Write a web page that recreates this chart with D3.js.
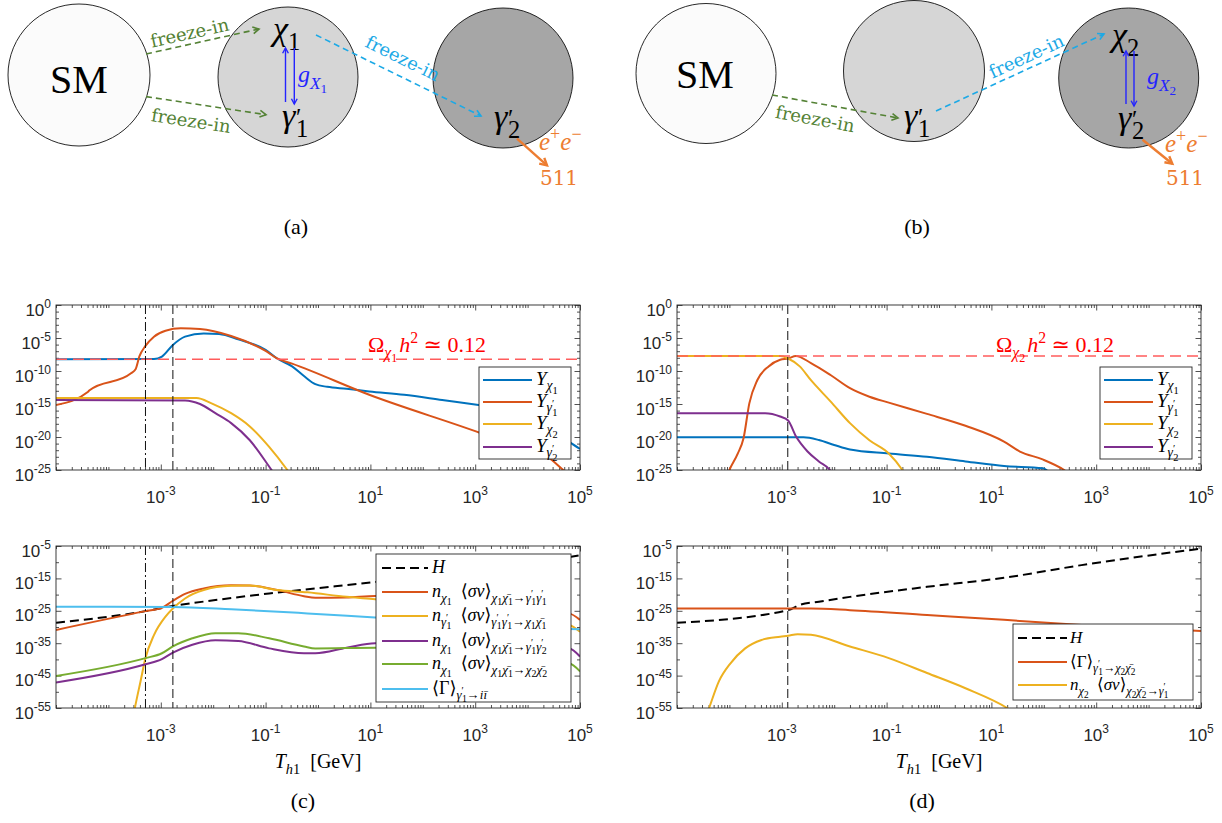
<!DOCTYPE html>
<html>
<head>
<meta charset="utf-8">
<script src="https://cdn.jsdelivr.net/npm/d3@7"></script>
<style>
  body { margin: 0; background: #fff; }
  svg { display: block; }
</style>
</head>
<body>
<svg id="fig" width="1222" height="823"></svg>
<script>
// ---------------- data ----------------
// x = T_h1 [GeV], y = value

// (c) upper: yields
const cTopYchi1 = [[1e-5, 5.9e-9], [7.4e-4, 6.3e-9], [1.05e-3, 1.5e-8], [1.7e-3, 8.7e-7], [2.9e-3, 1.6e-5],
  [6.6e-3, 5e-5], [1.3e-2, 4e-5], [3.0e-2, 6.3e-6], [0.1, 1.6e-7], [0.166, 7.9e-9], [0.32, 5e-10],
  [0.54, 1.7e-11], [0.89, 1e-12], [1.5, 4e-13], [3.5, 2e-13], [9.5, 7.9e-14], [44, 2.5e-14],
  [234, 4e-15], [1260, 6.3e-16], [4000, 1.6e-16], [1.6e4, 6.3e-18], [3.2e4, 2.5e-19], [6.2e4, 2e-21], [1e5, 1.6e-22]];
const cTopYgam1 = [[1e-5, 7e-16], [4.1e-5, 7e-14], [4.3e-5, 1.1e-13], [2.7e-4, 4.5e-11], [3.3e-4, 1.8e-10],
  [3.9e-4, 1.6e-8], [5.1e-4, 6.3e-7], [7.4e-4, 1.6e-5], [1.23e-3, 1.26e-4], [2.4e-3, 2.9e-4],
  [5.6e-3, 2.3e-4], [2.2e-2, 2e-5], [0.1, 1.1e-7], [0.166, 7.9e-9], [0.32, 1.3e-9], [9.5, 2.5e-14],
  [1260, 4e-20], [2.9e4, 3.2e-24], [4.8e4, 1e-25], [1e5, 3e-27]];
const cTopYchi2 = [[1e-5, 8e-15], [4.8e-3, 8e-15], [9.3e-3, 1.26e-15], [2.2e-2, 4e-17], [5e-2, 4e-19],
  [0.117, 3.2e-22], [0.26, 1e-25], [0.32, 1e-26]];
const cTopYgam2 = [[1e-5, 4e-15], [2.9e-3, 3.5e-15], [5.6e-3, 1e-15], [1.1e-2, 4e-17], [2.2e-2, 1.26e-18],
  [5e-2, 3.2e-21], [0.13, 1e-25], [0.16, 1e-26]];

// (c) lower: rates
const cBotH = [[1e-5, 2e-29], [5.1e-4, 7.9e-26], [1.7e-3, 3.2e-24], [1.1e-2, 2e-22], [0.117, 2.2e-20],
  [0.89, 7.9e-19], [12.3, 7.9e-17], [6.2e4, 4e-9], [1e5, 1.26e-8]];
const cBotSv11 = [[1e-5, 1.26e-31], [5.1e-4, 7.9e-26], [1.05e-3, 7.9e-25], [1.7e-3, 1.26e-22], [2.9e-3, 1.6e-20],
  [6.6e-3, 7.9e-19], [2.2e-2, 7.9e-18], [5e-2, 6.3e-18], [0.166, 2.5e-19], [0.54, 3.2e-21],
  [0.89, 1e-21], [3.5, 1.26e-21], [12.3, 4e-21], [6.2e4, 1.6e-26], [1e5, 1.6e-28]];
const cBotSvGG = [[2.8e-4, 1e-60], [3.2e-4, 1e-55], [4.1e-4, 1.6e-47], [5.1e-4, 2.5e-40], [7.4e-4, 3.2e-33],
  [1.23e-3, 1.6e-27], [1.7e-3, 5e-25], [2.9e-3, 6.3e-22], [6.6e-3, 2.5e-19], [2.2e-2, 5e-18],
  [5e-2, 6.3e-18], [0.166, 2.5e-19], [0.63, 5e-20], [3.5, 2e-21], [12.3, 4e-22], [6.2e4, 4e-30], [1e5, 3.2e-32]];
const cBotSv12 = [[1e-5, 7.9e-48], [5.1e-4, 3.2e-42], [1.05e-3, 1.26e-40], [1.7e-3, 1.26e-38], [4e-3, 3.2e-36],
  [1.1e-2, 7.9e-35], [3e-2, 5e-35], [0.117, 2.5e-37], [0.54, 7.9e-39], [0.89, 7.9e-39], [3.5, 4e-37],
  [12.3, 1e-35], [6.2e4, 2.5e-37], [1e5, 7.9e-40]];
const cBotSv22 = [[1e-5, 7.9e-46], [5.1e-4, 2.5e-40], [1.05e-3, 7.9e-39], [1.7e-3, 1e-36], [4e-3, 3.2e-34],
  [1.1e-2, 1.26e-32], [3e-2, 1.26e-32], [0.117, 3.2e-34], [0.54, 1e-36], [0.89, 2.5e-37], [12.3, 4e-37],
  [6.2e4, 6.3e-42], [1e5, 2e-44]];
const cBotGamma = [[1e-5, 1.8e-24], [1.7e-3, 1.6e-24], [2.2e-2, 3.2e-25], [0.63, 1.6e-26], [12.3, 7.9e-28],
  [6.2e4, 2.5e-31], [1e5, 2e-31]];

// (d) upper: yields
const dTopYchi1 = [[1e-5, 9e-21], [2.6e-3, 9e-21], [5.1e-3, 3.5e-21], [1e-2, 6.3e-22], [2e-2, 1.26e-22],
  [0.11, 3.2e-23], [0.59, 1e-23], [3.2, 2e-24], [17.4, 4e-25], [95, 1.8e-25], [112, 1e-25], [126, 3.2e-26]];
const dTopYgam1 = [[8.9e-5, 1e-26], [1e-4, 1e-25], [1.45e-4, 3.2e-23], [1.86e-4, 6.3e-21], [2.4e-4, 1.26e-15],
  [3.4e-4, 4e-12], [5.6e-4, 5e-10], [9.3e-4, 5e-9], [1.32e-3, 7.9e-9], [1.86e-3, 1.9e-8], [3.6e-3, 1.6e-9],
  [8.5e-3, 2.5e-11], [2e-2, 2.5e-13], [4.7e-2, 1.26e-14], [0.11, 1.6e-15], [0.59, 3.2e-17], [3.2, 5e-19],
  [17.4, 2e-21], [35, 6.3e-23], [95, 4e-24], [245, 1e-25], [316, 2.5e-26]];
const dTopYchi2 = [[1e-5, 1.9e-8], [9.3e-4, 1.9e-8], [1.32e-3, 7.9e-9], [2.2e-3, 5e-10], [3.6e-3, 4e-12],
  [8.5e-3, 2.5e-15], [2e-2, 1.26e-18], [4.7e-2, 3.2e-21], [0.11, 3.2e-23], [0.2, 1e-25], [0.24, 1e-26]];
const dTopYgam2 = [[1e-5, 4e-17], [4.8e-4, 4e-17], [9.3e-4, 1.26e-17], [1.32e-3, 3.2e-18], [1.86e-3, 1.26e-20],
  [3.1e-3, 6.3e-23], [5.1e-3, 2e-24], [8.3e-3, 1e-25], [1e-2, 1e-26]];

// (d) lower: rates
const dBotH = [[1e-5, 2e-29], [1.32e-3, 1.6e-25], [2.2e-3, 6.3e-24], [5.1e-3, 6.3e-23], [2e-2, 2e-21],
  [0.59, 2.5e-18], [17.4, 1.6e-15], [525, 1.26e-11], [1e5, 1.6e-6]];
const dBotGamma = [[1e-5, 5e-25], [3.6e-3, 5e-25], [2e-2, 1.6e-25], [0.59, 5e-27], [17.4, 1.6e-28],
  [525, 4e-30], [1e5, 6.3e-32]];
const dBotSv = [[3.5e-5, 1e-58], [4.1e-5, 1e-55], [6.3e-5, 1.6e-47], [1.05e-4, 6.3e-42], [2e-4, 2.5e-37],
  [4.1e-4, 1e-34], [9.3e-4, 1e-33], [1.32e-3, 2e-33], [2e-3, 6.3e-33], [3.6e-3, 4e-33], [2e-2, 1e-36],
  [0.11, 2.5e-40], [0.59, 6.3e-45], [3.2, 1.26e-49], [20, 1e-55], [25, 1e-56]];

// relic-density lines and marker temperatures
const omegaC = 5.9e-9, omegaD = 1.9e-8;
const cDashDotT = 5.1e-4, cDashT = 1.7e-3, dDashT = 1.3e-3;

// ticks
const xTicks = [1e-3, 1e-1, 1e1, 1e3, 1e5];
const xTickLabels = ['-3', '-1', '1', '3', '5'];
const yTopTicks = [1, 1e-5, 1e-10, 1e-15, 1e-20, 1e-25];
const yTopLabels = ['0', '-5', '-10', '-15', '-20', '-25'];
const yBotTicks = [1e-5, 1e-15, 1e-25, 1e-35, 1e-45, 1e-55];
const yBotLabels = ['-5', '-15', '-25', '-35', '-45', '-55'];

// ---------------- setup ----------------
const SERIF = "'Liberation Serif','DejaVu Serif',serif";
const DSERIF = "'DejaVu Serif','Liberation Serif',serif";
const SANS = "'Liberation Sans',Arial,Helvetica,sans-serif";
const AX = '#262626';
const C = { blue: '#0072BD', orange: '#D95319', yellow: '#EDB120', purple: '#7E2F8E', green: '#77AC30', cyan: '#4DBEEE' };

const svg = d3.select('#fig');

// math-ish text: parts = [text, level, italic, dx]
const LV = {
  n: { dy: 0, s: 1 },
  b: { dy: 0.28, s: 0.72 },
  p: { dy: -0.42, s: 0.72 },
  pr: { dy: -0.04, s: 0.72 },
  bb: { dy: 0.45, s: 0.55 },
  bp: { dy: 0.02, s: 0.55 }
};
function tex(g, x, y, size, parts, anchor, family) {
  let t = g.append('text').attr('x', x).attr('y', y)
    .attr('font-family', family || SERIF).attr('font-size', size)
    .attr('text-anchor', anchor || 'start');
  let prev = 0;
  parts.forEach(([s, l = 'n', it = 0, dx = 0]) => {
    let lv = LV[l];
    let off = lv.dy * size;
    let ts = t.append('tspan').attr('dy', (off - prev).toFixed(2))
      .attr('font-size', (lv.s * size).toFixed(2)).text(s);
    if (it) ts.attr('font-style', 'italic');
    if (dx) ts.attr('dx', (dx * size).toFixed(2));
    prev = off;
  });
  return t;
}

const chi = n => [['χ', 'b', 1], [String(n), 'bb']];
const chib = n => [['χ\u0304', 'b', 1], [String(n), 'bb']];
const gam = n => [['γ', 'b', 1], ['′', 'bp'], [String(n), 'bb', 0, -0.1]];
const sv = [['\u2002⟨', 'n'], ['σv', 'n', 1], ['⟩', 'n']];
const arr = [['→', 'b']];

// ---------------- diagrams (a), (b) ----------------
const dg = svg.append('g');

function ball(cx, cy, r, fill) {
  dg.append('circle').attr('cx', cx).attr('cy', cy).attr('r', r)
    .attr('fill', fill).attr('stroke', '#111').attr('stroke-width', 0.9);
}
function arrow(x1, y1, x2, y2, color, dash, width, head) {
  dg.append('line').attr('x1', x1).attr('y1', y1).attr('x2', x2).attr('y2', y2)
    .attr('stroke', color).attr('stroke-width', width)
    .attr('stroke-dasharray', dash || null);
  let a = Math.atan2(y2 - y1, x2 - x1), w = 0.5;
  dg.append('path')
    .attr('d', `M${x2 - head * Math.cos(a - w)},${y2 - head * Math.sin(a - w)}L${x2},${y2}L${x2 - head * Math.cos(a + w)},${y2 - head * Math.sin(a + w)}`)
    .attr('fill', 'none').attr('stroke', color).attr('stroke-width', width);
}
function tag(x, y, rot, text, color) {
  dg.append('text').attr('transform', `translate(${x},${y}) rotate(${rot})`)
    .attr('text-anchor', 'middle').attr('font-family', DSERIF).attr('font-size', 18)
    .attr('fill', color).text(text);
}
const GREEN = '#548235', SKY = '#1CA9E6', BLUE = '#2424FF', ORANGE = '#ED7D31';
const gamLbl = n => [['γ', 'n', 1], ['′', 'pr', 0, 0.02], [String(n), 'b', 0, -0.16]];

// (a)
ball(79, 75, 71, '#fbfbfb');
ball(288, 77, 70, '#d6d6d6');
ball(503, 78, 70, '#a6a6a6');
dg.append('text').attr('x', 79).attr('y', 93).attr('text-anchor', 'middle')
  .attr('font-family', SERIF).attr('font-size', 40).text('SM');
arrow(146, 54, 259, 29, GREEN, '6,4', 1.6, 7);
tag(191, 39, -12.5, 'freeze-in', GREEN);
arrow(146, 96.6, 266, 114.7, GREEN, '6,4', 1.6, 7);
tag(190, 127, 8.6, 'freeze-in', GREEN);
arrow(316, 35, 481, 116, SKY, '6,4', 1.6, 7);
tag(400, 64, 26.2, 'freeze-in', SKY);
tex(dg, 273, 40, 34, [['χ', 'n', 1], ['1', 'b']]);
tex(dg, 282, 127, 34, gamLbl(1));
arrow(285.5, 102, 285.5, 48, BLUE, null, 1.4, 6);
arrow(294.3, 48, 294.3, 104, BLUE, null, 1.4, 6);
tex(dg, 298, 82, 24, [['g', 'n', 1], ['X', 'b', 1], ['1', 'bb']]).attr('fill', BLUE);
tex(dg, 494, 128, 34, gamLbl(2));
arrow(517, 138.7, 547, 165.4, ORANGE, null, 2.4, 8);
tex(dg, 539, 150, 25, [['e', 'n', 1], ['+', 'p'], ['e', 'n', 1], ['−', 'p']]).attr('fill', ORANGE);
dg.append('text').attr('x', 559).attr('y', 185).attr('text-anchor', 'middle')
  .attr('font-family', DSERIF).attr('font-size', 20).attr('fill', ORANGE).text('511');

// (b)
ball(706, 73.5, 70, '#fbfbfb');
ball(914, 71, 70.5, '#d6d6d6');
ball(1128.7, 78, 70, '#a6a6a6');
dg.append('text').attr('x', 705).attr('y', 88).attr('text-anchor', 'middle')
  .attr('font-family', SERIF).attr('font-size', 40).text('SM');
arrow(772, 95, 898, 118, GREEN, '6,4', 1.6, 7);
tag(814, 125, 10.4, 'freeze-in', GREEN);
arrow(936, 111, 1104, 34, SKY, '6,4', 1.6, 7);
tag(1029, 62, -24.7, 'freeze-in', SKY);
tex(dg, 904, 127, 34, gamLbl(1));
tex(dg, 1112, 46, 34, [['χ', 'n', 1], ['2', 'b']]);
tex(dg, 1118, 129, 34, gamLbl(2));
arrow(1126, 104, 1126, 51, BLUE, null, 1.4, 6);
arrow(1134, 51, 1134, 106, BLUE, null, 1.4, 6);
tex(dg, 1147, 84, 24, [['g', 'n', 1], ['X', 'b', 1], ['2', 'bb']]).attr('fill', BLUE);
arrow(1142.6, 139.7, 1172.3, 163.7, ORANGE, null, 2.4, 8);
tex(dg, 1165, 152, 25, [['e', 'n', 1], ['+', 'p'], ['e', 'n', 1], ['−', 'p']]).attr('fill', ORANGE);
dg.append('text').attr('x', 1185).attr('y', 185).attr('text-anchor', 'middle')
  .attr('font-family', DSERIF).attr('font-size', 20).attr('fill', ORANGE).text('511');

[['(a)', 296, 234], ['(b)', 917, 234], ['(c)', 303, 808], ['(d)', 922, 808]].forEach(([s, x, y]) => {
  svg.append('text').attr('x', x).attr('y', y).attr('text-anchor', 'middle')
    .attr('font-family', SERIF).attr('font-size', 22).text(s);
});

// ---------------- plots ----------------
let clipId = 0;
function panel(o) {
  let g = svg.append('g');
  let x = d3.scaleLog().domain([1e-5, 1e5]).range([o.l, o.r]);
  let y = d3.scaleLog().domain(o.yDomain).range([o.b, o.t]);
  let id = 'clip' + (clipId++);
  g.append('clipPath').attr('id', id).append('rect')
    .attr('x', o.l).attr('y', o.t).attr('width', o.r - o.l).attr('height', o.b - o.t);

  // minor/major tick values
  let xMinor = [];
  for (let e = -5; e < 5; e++) for (let k = 1; k < 10; k++) {
    let v = k * Math.pow(10, e);
    if (!xTicks.some(t => Math.abs(t / v - 1) < 1e-9)) xMinor.push(v);
  }
  let lo = Math.round(Math.log10(o.yDomain[0])), hi = Math.round(Math.log10(o.yDomain[1]));
  let yMinor = [];
  for (let e = lo; e <= hi; e += o.yMinorStep) {
    let v = Math.pow(10, e);
    if (!o.yTicks.some(t => Math.abs(t / v - 1) < 1e-9)) yMinor.push(v);
  }

  let axes = [
    [d3.axisBottom(x), o.b, 0, xTicks, xMinor], [d3.axisTop(x), o.t, 0, xTicks, xMinor],
    [d3.axisLeft(y), 0, o.l, o.yTicks, yMinor], [d3.axisRight(y), 0, o.r, o.yTicks, yMinor]
  ];
  axes.forEach(([ax, ty, tx, maj, min]) => {
    [[maj, -5.5], [min, -3]].forEach(([vals, size]) => {
      let a = g.append('g').attr('transform', `translate(${tx},${ty})`)
        .call(ax.tickValues(vals).tickSize(size).tickFormat(''));
      a.select('.domain').remove();
      a.selectAll('line').attr('stroke', AX).attr('stroke-width', 0.8);
    });
  });

  let plot = g.append('g').attr('clip-path', `url(#${id})`);
  let line = d3.line().x(d => x(d[0])).y(d => y(d[1])).curve(d3.curveMonotoneX);
  o.series.forEach(s => {
    plot.append('path').datum(s.data).attr('d', line)
      .attr('fill', 'none').attr('stroke', s.color).attr('stroke-width', 2)
      .attr('stroke-dasharray', s.dash || null);
  });
  if (o.omega) {
    plot.append('line').attr('x1', o.l).attr('x2', o.r)
      .attr('y1', y(o.omega)).attr('y2', y(o.omega))
      .attr('stroke', '#ff5c5c').attr('stroke-width', 1.4).attr('stroke-dasharray', '11,6');
  }
  o.vlines.forEach(v => {
    plot.append('line').attr('x1', x(v.T)).attr('x2', x(v.T)).attr('y1', o.t).attr('y2', o.b)
      .attr('stroke', '#111').attr('stroke-width', 1).attr('stroke-dasharray', v.dash);
  });
  if (o.omegaLabel) {
    tex(g, o.omegaLabel.x, o.omegaLabel.y, 22, o.omegaLabel.parts).attr('fill', '#ff0000');
  }

  g.append('rect').attr('x', o.l).attr('y', o.t).attr('width', o.r - o.l).attr('height', o.b - o.t)
    .attr('fill', 'none').attr('stroke', AX).attr('stroke-width', 0.9);

  // tick labels
  xTicks.forEach((t, i) => {
    let tx = g.append('text').attr('x', x(t)).attr('y', o.b + 33).attr('text-anchor', 'middle')
      .attr('font-family', SANS).attr('font-size', 17).attr('fill', AX);
    tx.append('tspan').text('10');
    tx.append('tspan').attr('dy', -8).attr('font-size', 12).text(xTickLabels[i]);
  });
  o.yTicks.forEach((t, i) => {
    let ty = g.append('text').attr('x', o.l - 5).attr('y', y(t) + 10.5).attr('text-anchor', 'end')
      .attr('font-family', SANS).attr('font-size', 17).attr('fill', AX);
    ty.append('tspan').text('10');
    ty.append('tspan').attr('dy', -8).attr('font-size', 12).text(o.yLabels[i]);
  });
  if (o.xlabel) {
    tex(g, (o.l + o.r) / 2, o.b + 60, 20,
      [['T', 'n', 1], ['h', 'b', 1], ['1', 'b'], ['\u2002[GeV]', 'n']], 'middle');
  }

  // legend
  let L = o.legend;
  let lg = g.append('g').attr('transform', `translate(${L.x},${L.y})`);
  lg.append('rect').attr('width', L.w).attr('height', L.h)
    .attr('fill', '#fff').attr('stroke', AX).attr('stroke-width', 0.9);
  L.items.forEach((it, i) => {
    let cy = L.rows[i];
    lg.append('line').attr('x1', L.lx[0]).attr('x2', L.lx[1]).attr('y1', cy).attr('y2', cy)
      .attr('stroke', it.color).attr('stroke-width', 2).attr('stroke-dasharray', it.dash || null);
    tex(lg, L.tx, cy + 5, L.size, it.label);
  });
}

const PC = { l: 56, r: 580 }, PD = { l: 677, r: 1201 };
const TOP = { t: 305, b: 470 }, BOT = { t: 546, b: 708 };
const DASH = '9,4', DASHDOT = '9,3,2,3';

const yLegend = (series) => ({
  w: 92, h: 92, rows: [13, 35, 57, 80], lx: [4, 53], tx: 57, size: 19,
  items: series
});
const yItems = [
  { color: C.blue, label: [['Y', 'n', 1], ...chi(1)] },
  { color: C.orange, label: [['Y', 'n', 1], ...gam(1)] },
  { color: C.yellow, label: [['Y', 'n', 1], ...chi(2)] },
  { color: C.purple, label: [['Y', 'n', 1], ...gam(2)] }
];

// (c) upper
panel({
  ...PC, ...TOP, yDomain: [1e-25, 1], yTicks: yTopTicks, yLabels: yTopLabels, yMinorStep: 1,
  series: [
    { data: cTopYchi1, color: C.blue }, { data: cTopYgam1, color: C.orange },
    { data: cTopYchi2, color: C.yellow }, { data: cTopYgam2, color: C.purple }
  ],
  omega: omegaC,
  omegaLabel: { x: 368, y: 352, parts: [['Ω', 'n'], ...chi(1), ['h', 'n', 1, 0.08], ['2', 'p'], [' ≃ 0.12', 'n']] },
  vlines: [{ T: cDashDotT, dash: DASHDOT }, { T: cDashT, dash: DASH }],
  legend: { x: PC.r - 101, y: 367, ...yLegend(yItems) }
});

// (c) lower
panel({
  ...PC, ...BOT, yDomain: [1e-55, 1e-5], yTicks: yBotTicks, yLabels: yBotLabels, yMinorStep: 5,
  series: [
    { data: cBotH, color: '#000', dash: '9,5' },
    { data: cBotSv11, color: C.orange }, { data: cBotSvGG, color: C.yellow },
    { data: cBotSv12, color: C.purple }, { data: cBotSv22, color: C.green },
    { data: cBotGamma, color: C.cyan }
  ],
  vlines: [{ T: cDashDotT, dash: DASHDOT }, { T: cDashT, dash: DASH }],
  xlabel: true,
  legend: {
    x: PC.r - 204, y: 554, w: 195, h: 148, rows: [14, 38, 62, 87, 110, 135], lx: [6, 52], tx: 56, size: 18,
    items: [
      { color: '#000', dash: '9,5', label: [['H', 'n', 1]] },
      { color: C.orange, label: [['n', 'n', 1], ...chi(1), ...sv, ...chi(1), ...chib(1), ...arr, ...gam(1), ...gam(1)] },
      { color: C.yellow, label: [['n', 'n', 1], ...gam(1), ...sv, ...gam(1), ...gam(1), ...arr, ...chi(1), ...chib(1)] },
      { color: C.purple, label: [['n', 'n', 1], ...chi(1), ...sv, ...chi(1), ...chib(1), ...arr, ...gam(1), ...gam(2)] },
      { color: C.green, label: [['n', 'n', 1], ...chi(1), ...sv, ...chi(1), ...chib(1), ...arr, ...chi(2), ...chib(2)] },
      { color: C.cyan, label: [['⟨Γ⟩', 'n'], ...gam(1), ...arr, ['i', 'b', 1], ['ī', 'b', 1]] }
    ]
  }
});

// (d) upper
panel({
  ...PD, ...TOP, yDomain: [1e-25, 1], yTicks: yTopTicks, yLabels: yTopLabels, yMinorStep: 1,
  series: [
    { data: dTopYchi1, color: C.blue }, { data: dTopYgam1, color: C.orange },
    { data: dTopYchi2, color: C.yellow }, { data: dTopYgam2, color: C.purple }
  ],
  omega: omegaD,
  omegaLabel: { x: 996, y: 352, parts: [['Ω', 'n'], ...chi(2), ['h', 'n', 1, 0.08], ['2', 'p'], [' ≃ 0.12', 'n']] },
  vlines: [{ T: dDashT, dash: DASH }],
  legend: { x: PD.r - 101, y: 367, ...yLegend(yItems) }
});

// (d) lower
panel({
  ...PD, ...BOT, yDomain: [1e-55, 1e-5], yTicks: yBotTicks, yLabels: yBotLabels, yMinorStep: 5,
  series: [
    { data: dBotH, color: '#000', dash: '9,5' },
    { data: dBotGamma, color: C.orange }, { data: dBotSv, color: C.yellow }
  ],
  vlines: [{ T: dDashT, dash: DASH }],
  xlabel: true,
  legend: {
    x: PD.r - 188, y: 624, w: 180, h: 76, rows: [14, 38, 61], lx: [5, 54], tx: 57, size: 17,
    items: [
      { color: '#000', dash: '9,5', label: [['H', 'n', 1]] },
      { color: C.orange, label: [['⟨Γ⟩', 'n'], ...gam(1), ...arr, ...chi(2), ...chib(2)] },
      { color: C.yellow, label: [['n', 'n', 1], ...chi(2), ...sv, ...chi(2), ...chib(2), ...arr, ...gam(1)] }
    ]
  }
});
</script>
</body>
</html>
